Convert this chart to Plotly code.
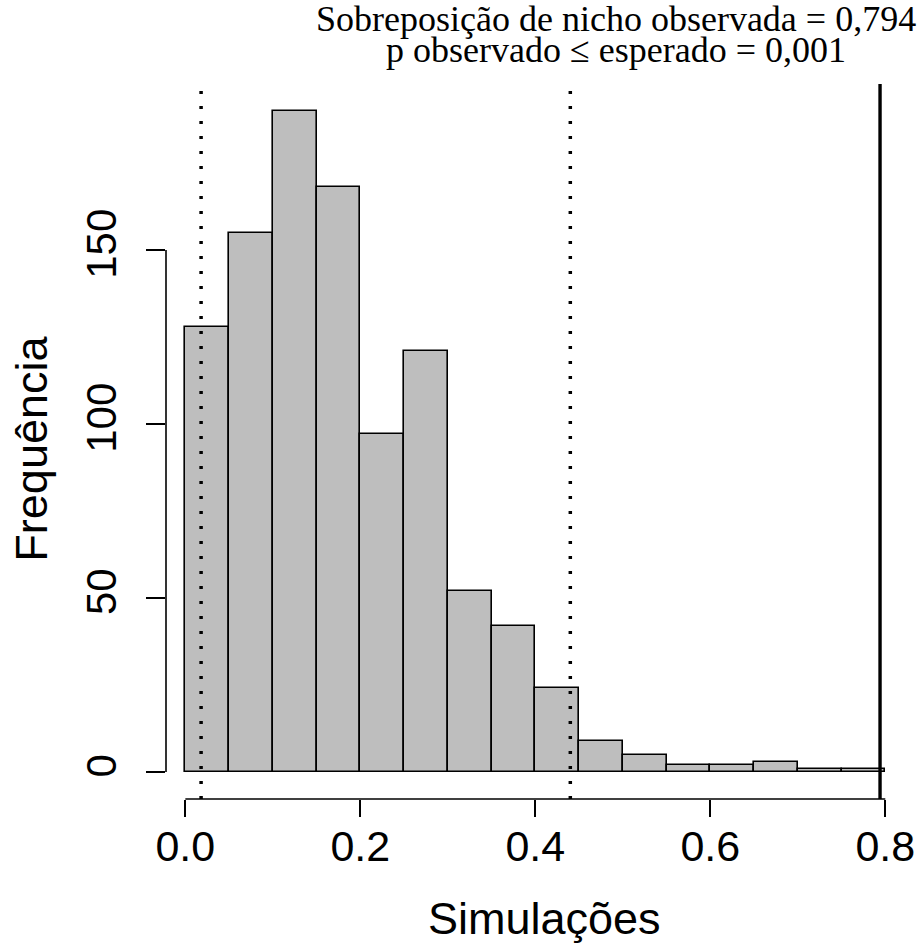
import plotly.graph_objects as go

# Histogram data (bins of width 0.05 from 0 to 0.8)
bin_start = 0.0
bin_width = 0.05
counts = [128, 155, 190, 168, 97, 121, 52, 42, 24, 9, 5, 2, 2, 3, 1, 1]

# Reference lines
lower_q = 0.018
upper_q = 0.44
observed = 0.794

x_ticks = [0.0, 0.2, 0.4, 0.6, 0.8]
x_ticklabels = ["0.0", "0.2", "0.4", "0.6", "0.8"]
y_ticks = [0, 50, 100, 150]
y_ticklabels = ["0", "50", "100", "150"]

title_lines = ["Sobreposição de nicho observada = 0,794",
               "p observado ≤ esperado = 0,001"]
x_title = "Simulações"
y_title = "Frequência"

centers = [bin_start + bin_width * (i + 0.5) for i in range(len(counts))]

W, H = 924, 944
ml, mr, mt, mb = 166, 9, 84, 145

fig = go.Figure()
fig.add_trace(go.Bar(
    x=centers, y=counts, width=bin_width,
    marker=dict(color="#BEBEBE", line=dict(color="black", width=1.6)),
    hoverinfo="x+y", showlegend=False,
))

sans = "Liberation Sans, Arial, sans-serif"
serif = "Liberation Serif, Times New Roman, serif"

shapes = []
# dotted quantile lines
for q in (lower_q, upper_q):
    shapes.append(dict(type="line", xref="x", yref="paper", x0=q, x1=q, y0=0, y1=1,
                       line=dict(color="black", width=3.5, dash="3px,12px")))
# observed line
shapes.append(dict(type="line", xref="x", yref="paper", x0=observed, x1=observed, y0=0, y1=1,
                   line=dict(color="black", width=3.4)))
# R-style axis lines
shapes.append(dict(type="line", xref="x", yref="paper", x0=x_ticks[0], x1=x_ticks[-1], y0=0, y1=0,
                   line=dict(color="black", width=1.6)))
shapes.append(dict(type="line", xref="paper", yref="y", x0=0, x1=0, y0=y_ticks[0], y1=y_ticks[-1],
                   line=dict(color="black", width=1.6)))

title_text = "<br>".join('<span style="font-size:36px">%s</span>' % t for t in title_lines)

annotations = [
    dict(text=title_text, xref="paper", yref="paper", x=0.605, y=1, yshift=50,
         showarrow=False, xanchor="center", yanchor="middle", align="center",
         font=dict(family=serif, size=24, color="black")),
    dict(text=x_title, xref="paper", yref="paper", x=0.509, y=0, yshift=-119,
         showarrow=False, xanchor="center", yanchor="middle",
         font=dict(family=sans, size=45, color="black")),
    dict(text=y_title, xref="paper", yref="paper", x=0, y=0.49, xshift=-134, textangle=-90,
         showarrow=False, xanchor="center", yanchor="middle",
         font=dict(family=sans, size=45, color="black")),
]

fig.update_layout(
    width=W, height=H,
    margin=dict(l=ml, r=mr, t=mt, b=mb, pad=0),
    paper_bgcolor="white", plot_bgcolor="white",
    bargap=0,
    shapes=shapes, annotations=annotations,
    xaxis=dict(range=[-0.0221, 0.8271], tickvals=x_ticks, ticktext=x_ticklabels,
               ticks="outside", ticklen=17, tickwidth=1.6, tickcolor="black",
               ticklabelstandoff=-8,
               showgrid=False, zeroline=False, showline=False,
               tickfont=dict(family=sans, size=43, color="black")),
    yaxis=dict(range=[-7.76, 197.7], tickvals=y_ticks, ticktext=y_ticklabels,
               ticks="outside", ticklen=19, tickwidth=1.6, tickcolor="black",
               tickangle=-90, ticklabelstandoff=13,
               showgrid=False, zeroline=False, showline=False,
               tickfont=dict(family=sans, size=42, color="black")),
)

fig.write_html(
    "out.html",
    config={"displayModeBar": False},
    post_script="document.body.style.margin='0';document.body.style.overflow='hidden';",
)
